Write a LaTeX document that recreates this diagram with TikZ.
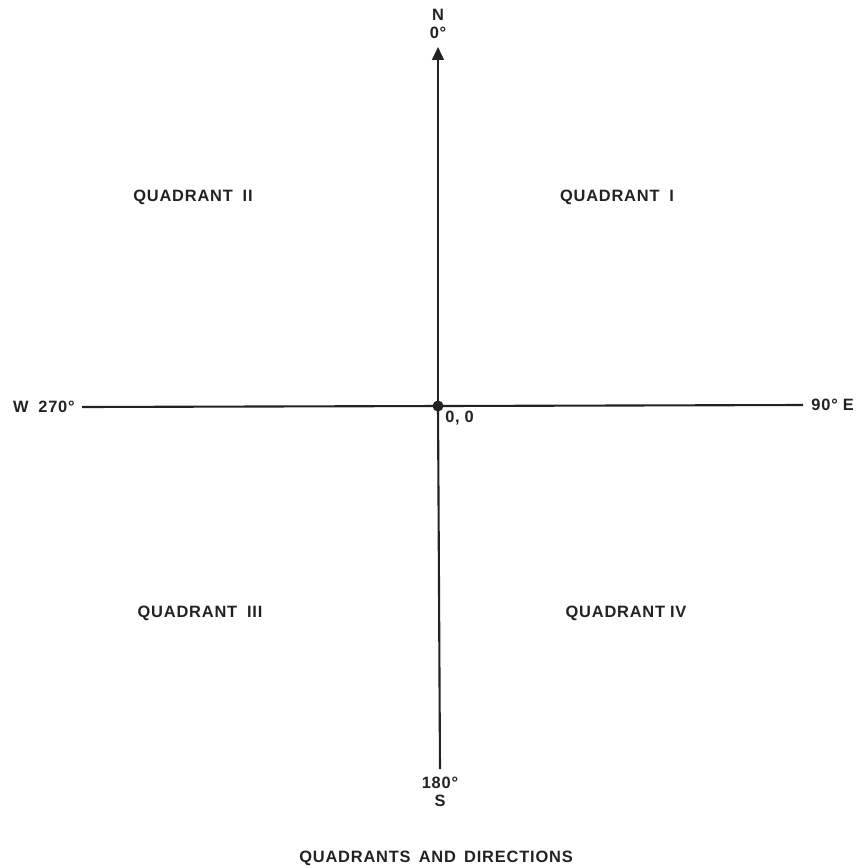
\documentclass[tikz,border=0pt]{standalone}
\usepackage{fontspec}
\setmainfont{Liberation Sans}[LetterSpace=5]
\usepackage{tikz}
\usetikzlibrary{arrows.meta, positioning}
\definecolor{inkgray}{HTML}{222222}

\tikzset{
    lbl/.style={font=\bfseries\fontsize{14}{15}\selectfont, text=inkgray, inner sep=1pt},
    axisline/.style={draw=inkgray, line width=1.8pt},
}

\begin{document}
\begin{tikzpicture}[x=0.03cm, y=-0.03cm]
    \useasboundingbox (0,0) rectangle (868,867);

    % axes
    \coordinate (origin) at (438,406);
    \coordinate (north) at (438,47);
    \coordinate (south) at (440,769);
    \coordinate (west) at (82,407);
    \coordinate (east) at (803,405);

    \draw[axisline] (west) -- (east);
    \draw[axisline] (south) -- (origin);
    \draw[axisline, -{Triangle[length=11pt, width=10pt]}] (origin) -- (north);
    \fill[inkgray] (origin) circle (5.5);

    % direction labels
    \node[lbl, above=6pt of north] (zerodeg) {0°};
    \node[lbl, above=3pt of zerodeg] (nlbl) {N};
    \node[lbl, below=6pt of south] (deg180) {180°};
    \node[lbl, below=3pt of deg180] (slbl) {S};
    \node[lbl, left=5pt of west] (wlbl) {W\hspace{0.6em}270°};
    \node[lbl, right=6pt of east] (elbl) {90°\hspace{0.3em}E};
    \node[lbl, below right=3pt and 5pt of origin] (olbl) {0,\hspace{0.3em}0};

    % quadrants
    \node[lbl] (quadI) at (617,197) {QUADRANT\hspace{0.6em}I};
    \node[lbl] (quadII) at (193,197) {QUADRANT\hspace{0.6em}II};
    \node[lbl] (quadIII) at (200,613) {QUADRANT\hspace{0.6em}III};
    \node[lbl] (quadIV) at (626,613) {QUADRANT\hspace{0.3em}IV};

    % caption
    \node[lbl] (caption) at (436,858) {QUADRANTS\hspace{0.5em}AND\hspace{0.5em}DIRECTIONS};
\end{tikzpicture}
\end{document}
